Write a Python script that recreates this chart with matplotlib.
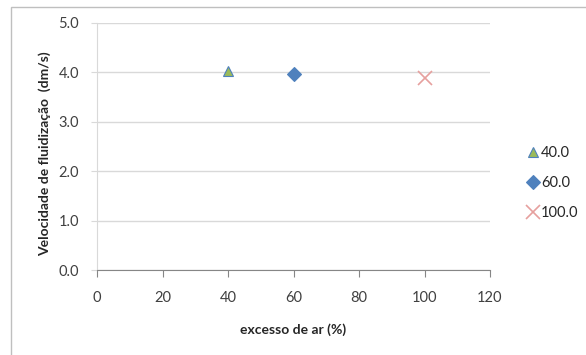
import matplotlib.pyplot as plt
from matplotlib.patches import Rectangle

excesso = [40.0, 60.0, 100.0]
velocidade = [4.02, 3.96, 3.88]
series_labels = ["40.0", "60.0", "100.0"]

x_ticks = [0, 20, 40, 60, 80, 100, 120]
y_ticks = [0.0, 1.0, 2.0, 3.0, 4.0, 5.0]

plt.rcParams["font.family"] = ["Lato", "DejaVu Sans"]

fig = plt.figure(figsize=(5.86, 3.55), dpi=100)
fig.patches.append(Rectangle((11 / 586, -0.05), 1.2, 1 - 7 / 355 + 0.05, transform=fig.transFigure,
                             fill=False, edgecolor="#bfbfbf", linewidth=1.0))
ax = fig.add_axes([97 / 586, 1 - 270 / 355, 393 / 586, 247 / 355])

styles = [
    dict(marker="^", color="#9bbb59", markeredgecolor="#4f81bd", markersize=7, markeredgewidth=0.8),
    dict(marker="D", color="#4f81bd", markeredgecolor="#4f81bd", markersize=7, markeredgewidth=0.8),
    dict(marker="x", color="#e6a09e", markeredgecolor="#e6a09e", markersize=10, markeredgewidth=1.2),
]
for x, y, label, st in zip(excesso, velocidade, series_labels, styles):
    ax.plot([x], [y], linestyle="none", label=label, **st)

ax.set_xlim(0, 120)
ax.set_ylim(0, 5)
ax.set_xticks(x_ticks)
ax.set_yticks(y_ticks)
ax.set_xticklabels([str(v) for v in x_ticks])
ax.set_yticklabels([f"{v:.1f}" for v in y_ticks])
ax.grid(axis="y", color="#d9d9d9", linewidth=1.0)
ax.set_axisbelow(True)

for side in ["top", "right"]:
    ax.spines[side].set_visible(False)
ax.spines["left"].set_color("#d9d9d9")
ax.spines["bottom"].set_color("#868686")
ax.tick_params(axis="x", direction="out", length=5, color="#868686", labelsize=10.5, labelcolor="#404040", pad=10)
ax.tick_params(axis="y", direction="out", length=4, color="#d9d9d9", labelsize=10.5, labelcolor="#404040", pad=9)

ax.set_xlabel("excesso de ar (%)", fontsize=10, fontweight="bold", color="#262626", labelpad=13)
ax.set_ylabel("Velocidade de fluidização  (dm/s)", fontsize=10, fontweight="bold", color="#262626")
ax.yaxis.set_label_coords(-46 / 393, 0.47)

fig.legend(loc="center left", bbox_to_anchor=(527 / 586, 1 - 183 / 355), frameon=False, fontsize=10.5,
           handlelength=0.8, handletextpad=0.15, borderaxespad=0, borderpad=0,
           labelspacing=1.1, labelcolor="#262626")

fig.savefig("out.png", dpi=100)
